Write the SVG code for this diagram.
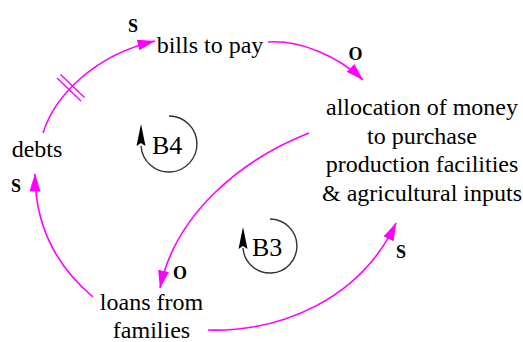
<svg xmlns="http://www.w3.org/2000/svg" width="523" height="342" viewBox="0 0 523 342">
<defs>
<marker id="ah" markerUnits="userSpaceOnUse" markerWidth="20" markerHeight="12" refX="17.5" refY="5.5" orient="auto">
<path d="M0,0 L18,5.5 L0,11 z" fill="#FF00FF"/>
</marker>
<style>
text{font-family:'Liberation Serif','Times New Roman','DejaVu Serif',serif}
.lbl{font-size:24px;fill:#000;text-anchor:middle}
.pol{font-size:18px;font-weight:bold;fill:#000;text-anchor:middle}
.link{fill:none;stroke:#FF00FF;stroke-width:1.6;marker-end:url(#ah)}
.loop{fill:none;stroke:#333;stroke-width:1.4}
.loopt{font-size:26px;fill:#000}
</style>
</defs>
<rect width="523" height="342" fill="#fff"/>
<g id="connectors">
<path class="link" d="M43,133 C55,95 95,55 155,41"/>
<line x1="57" y1="78" x2="81" y2="101" stroke="#FF00FF" stroke-width="1.4"/>
<line x1="60.5" y1="74.5" x2="84.5" y2="97.5" stroke="#FF00FF" stroke-width="1.4"/>
<path class="link" d="M268,42 C300,40 338,56 363,80"/>
<path class="link" d="M309,133 C240,160 175,215 160,288"/>
<path class="link" d="M93,297 C55,265 35,225 35,174"/>
<path class="link" d="M208,330 C280,332 360,300 396,223"/>
</g>
<g id="bills"><text class="lbl" x="210" y="53" font-family="Liberation Serif, serif">bills to pay</text></g>
<g id="allocation" font-family="Liberation Serif, serif">
<text class="lbl" x="422" y="115">allocation of money</text>
<text class="lbl" x="422" y="144">to purchase</text>
<text class="lbl" x="422" y="172">production facilities</text>
<text class="lbl" x="422" y="201">&amp; agricultural inputs</text>
</g>
<g id="loans">
<text class="lbl" x="151.5" y="310">loans from</text>
<text class="lbl" x="151.5" y="338">families</text>
</g>
<g id="debts"><text class="lbl" x="37" y="157">debts</text></g>
<g id="polarities">
<text class="pol" x="133" y="32">S</text>
<text class="pol" x="355.5" y="60">O</text>
<text class="pol" x="16" y="192">S</text>
<text class="pol" x="180" y="279">O</text>
<text class="pol" x="401" y="258">S</text>
</g>
<g id="loopB4">
<path class="loop" d="M169,116 A28,28 0 1 1 141,146"/>
<polygon points="141,124 145.5,146 141,143 136.5,146" fill="#000"/>
<text class="loopt" x="152" y="154">B4</text>
</g>
<g id="loopB3">
<path class="loop" d="M270,219 A27,27 0 1 1 243,248"/>
<polygon points="243,227 247.5,249 243,246 238.5,249" fill="#000"/>
<text class="loopt" x="252" y="256">B3</text>
</g>
</svg>
